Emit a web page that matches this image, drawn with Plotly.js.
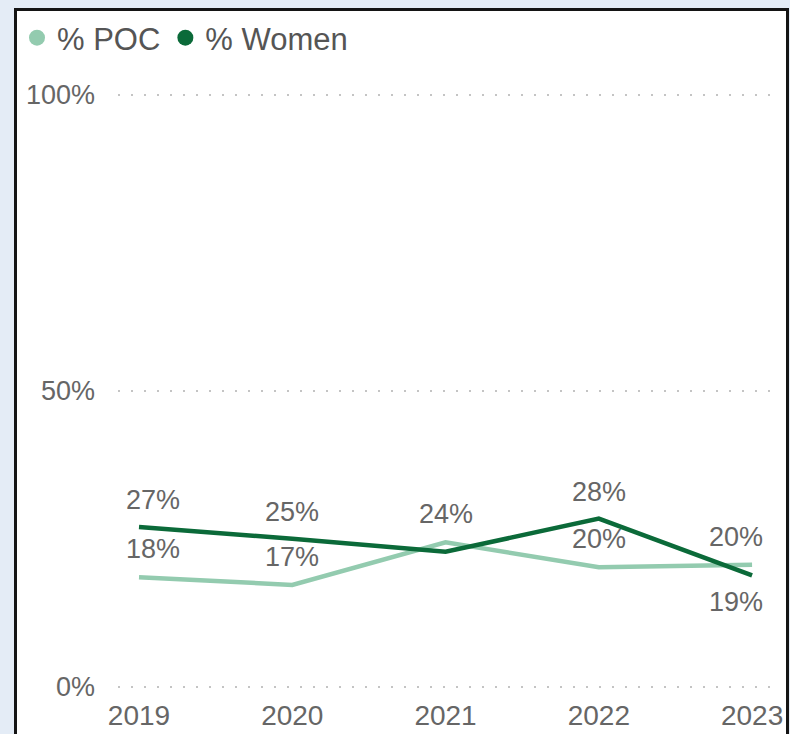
<!DOCTYPE html>
<html>
<head>
<meta charset="utf-8">
<script src="https://cdn.plot.ly/plotly-3.0.1.min.js"></script>
<style>
  html, body { margin: 0; padding: 0; background: #e4ecf6; width: 790px; height: 734px; overflow: hidden; }
  #panel { position: absolute; left: 14px; top: 8px; width: 769px; height: 740px; background: #ffffff;
           border-left: 3px solid #141414; border-top: 3px solid #141414; border-right: 3px solid #141414; }
  #chart { position: absolute; left: 0; top: 0; width: 769px; height: 723px; }
</style>
</head>
<body>
<div id="panel"><div id="chart"></div></div>
<script>
// ---- data ----
const years = ['2019', '2020', '2021', '2022', '2023'];
const pocValues = [18.5, 17.2, 24.4, 20.2, 20.6];
const womenValues = [27.0, 25.0, 22.8, 28.4, 18.8];
const pocLabels = ['18%', '17%', '24%', '20%', '20%'];
const womenLabels = ['27%', '25%', '', '28%', '19%'];
const yTickVals = [0, 50, 100];
const yTickText = ['0%', '50%', '100%'];
const seriesNames = ['% POC', '% Women'];

// ---- style ----
const pocColor = '#93cbaf';
const womenColor = '#0b6a39';
const textColor = '#666666';
const fontFam = '"Liberation Sans", Arial, sans-serif';

const traces = [
  { x: years, y: pocValues, type: 'scatter', mode: 'lines', name: seriesNames[0],
    line: { color: pocColor, width: 4.5 }, showlegend: false, hoverinfo: 'skip' },
  { x: years, y: womenValues, type: 'scatter', mode: 'lines', name: seriesNames[1],
    line: { color: womenColor, width: 4.5 }, showlegend: false, hoverinfo: 'skip' },
  // legend entries (circle markers)
  { x: [null], y: [null], type: 'scatter', mode: 'markers', name: seriesNames[0],
    marker: { color: pocColor, size: 22 }, showlegend: true },
  { x: [null], y: [null], type: 'scatter', mode: 'markers', name: seriesNames[1],
    marker: { color: womenColor, size: 22 }, showlegend: true }
];

function xShift(i, n) { return i === 0 ? 14 : (i === n - 1 ? -16 : 0); }

const annotations = [];
years.forEach((yr, i) => {
  if (pocLabels[i]) annotations.push({ xref: 'x', yref: 'y', x: i, y: pocValues[i], text: pocLabels[i], showarrow: false,
    xanchor: 'center', yanchor: 'middle', yshift: 28, xshift: xShift(i, years.length),
    font: { family: fontFam, size: 27, color: textColor } });
  if (womenLabels[i]) annotations.push({ xref: 'x', yref: 'y', x: i, y: womenValues[i], text: womenLabels[i], showarrow: false,
    xanchor: 'center', yanchor: 'middle', yshift: (i === years.length - 1 ? -27 : 27), xshift: xShift(i, years.length),
    font: { family: fontFam, size: 27, color: textColor } });
});

const layout = {
  width: 769, height: 723,
  margin: { l: 101, r: 14, t: 82, b: 46, pad: 0 },
  paper_bgcolor: '#ffffff', plot_bgcolor: '#ffffff',
  font: { family: fontFam, size: 27, color: textColor },
  showlegend: true,
  legend: { orientation: 'h', xref: 'container', yref: 'container', x: -0.005, y: 1, xanchor: 'left', yanchor: 'top',
            font: { family: fontFam, size: 31, color: '#555555' }, itemsizing: 'trace', bgcolor: 'rgba(0,0,0,0)' },
  xaxis: { type: 'category', categoryorder: 'array', categoryarray: years, range: [-0.137, 4.13],
           showgrid: false, zeroline: false, showline: false, ticks: '', ticklabelstandoff: 8,
           tickfont: { family: fontFam, size: 28, color: textColor }, fixedrange: true },
  yaxis: { range: [-0.22, 100.34], tickvals: yTickVals, ticktext: yTickText, showgrid: true,
           gridcolor: '#c4c4c4', gridwidth: 2, griddash: '2px,11px', zeroline: false, showline: false,
           ticks: '', ticklabelstandoff: 22, tickfont: { family: fontFam, size: 27, color: textColor }, fixedrange: true },
  annotations: annotations
};

Plotly.newPlot('chart', traces, layout, { staticPlot: true, displayModeBar: false });
</script>
</body>
</html>
